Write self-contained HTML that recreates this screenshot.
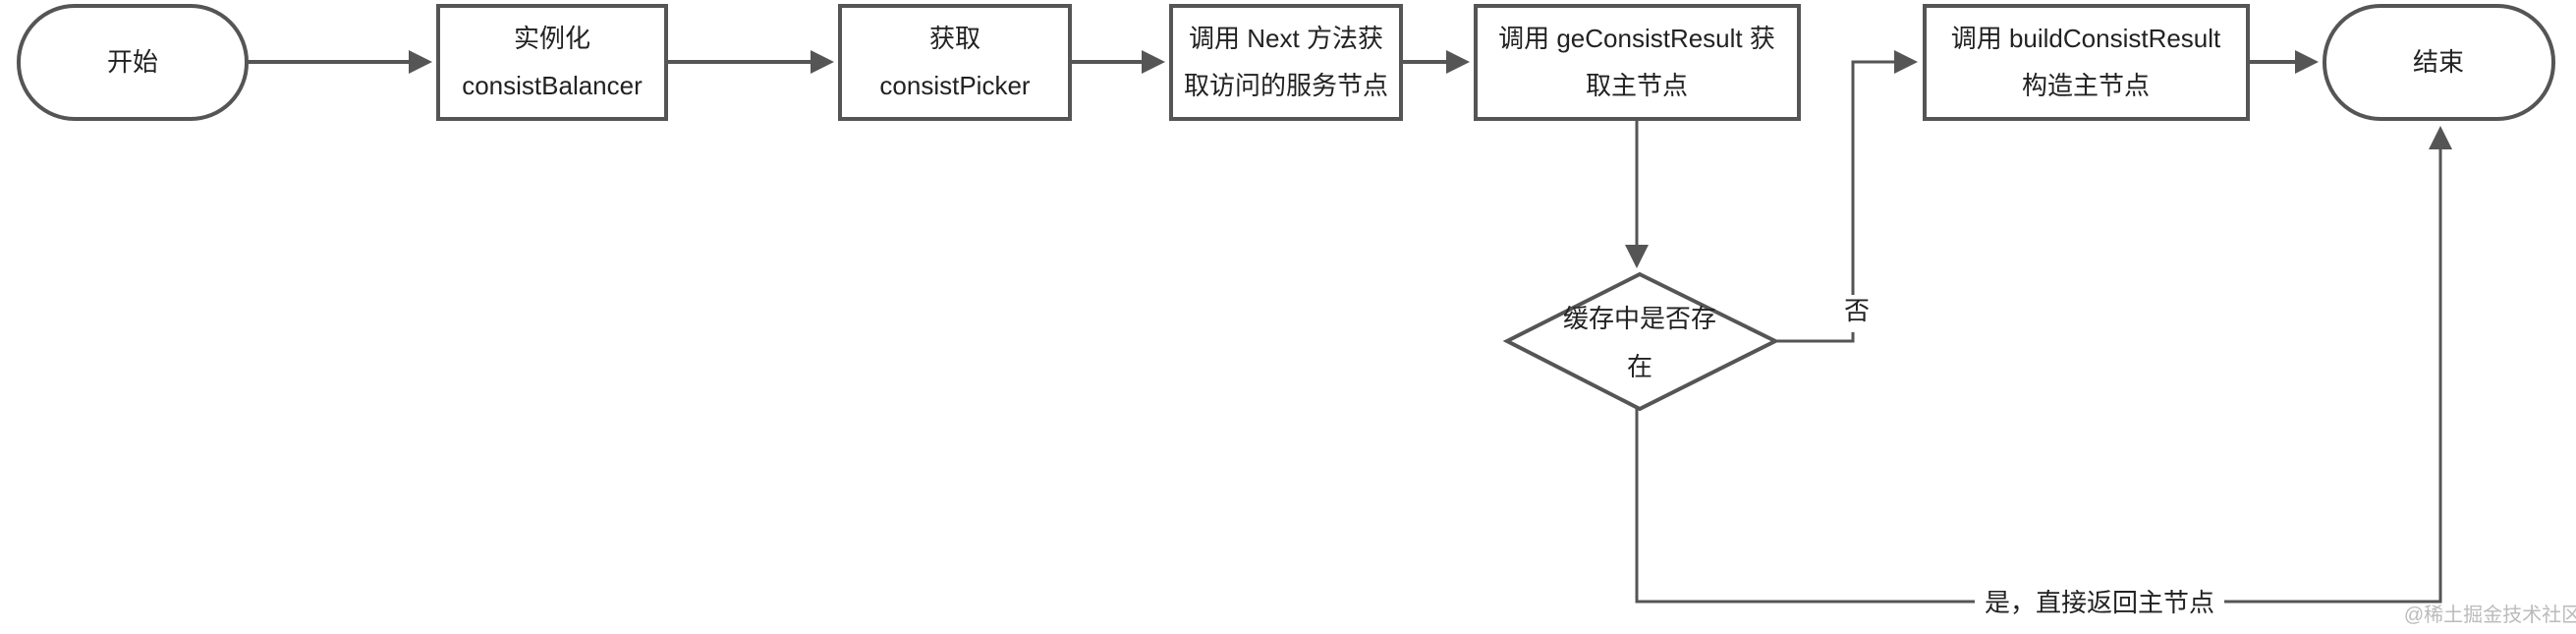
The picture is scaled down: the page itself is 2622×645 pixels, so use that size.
<!DOCTYPE html>
<html><head><meta charset="utf-8"><style>
body{margin:0;background:#fff}
svg text{font-family:"Liberation Sans","Noto Sans CJK SC",sans-serif;fill:#222;font-size:26px}
</style></head><body>
<svg width="2622" height="640" viewBox="0 0 2622 640" xmlns="http://www.w3.org/2000/svg">
<defs><marker id="a" markerWidth="6" markerHeight="6" refX="5" refY="3" orient="auto" markerUnits="strokeWidth"><path d="M0,0 L6,3 L0,6 Z" fill="#555"/></marker>
<marker id="b" markerWidth="8" markerHeight="8" refX="7" refY="4" orient="auto" markerUnits="strokeWidth"><path d="M0,0 L8,4 L0,8 Z" fill="#555"/></marker></defs>
<g stroke="#555" stroke-width="4" fill="#fff">
<rect x="19" y="6" width="232" height="115" rx="57"/>
<rect x="446" y="6" width="232" height="115"/>
<rect x="855" y="6" width="234" height="115"/>
<rect x="1192" y="6" width="234" height="115"/>
<rect x="1502" y="6" width="329" height="115"/>
<rect x="1959" y="6" width="329" height="115"/>
<rect x="2366" y="6" width="233" height="115" rx="57"/>
<polygon points="1669,279 1807,347 1669,416 1534,347"/>
</g>
<g stroke="#555" stroke-width="4" fill="none">
<line x1="251" y1="63" x2="436" y2="63" marker-end="url(#a)"/>
<line x1="678" y1="63" x2="845" y2="63" marker-end="url(#a)"/>
<line x1="1089" y1="63" x2="1182" y2="63" marker-end="url(#a)"/>
<line x1="1426" y1="63" x2="1492" y2="63" marker-end="url(#a)"/>
<line x1="2288" y1="63" x2="2356" y2="63" marker-end="url(#a)"/>
<line x1="1666" y1="121" x2="1666" y2="270" stroke-width="3" marker-end="url(#b)"/>
<polyline points="1807,347 1886,347 1886,63 1949,63" stroke-width="3" marker-end="url(#b)"/>
<polyline points="1666,416 1666,612 2484,612 2484,131" stroke-width="3" marker-end="url(#b)"/>
</g>
<rect x="1876" y="300" width="22" height="38" fill="#fff"/>
<rect x="2010" y="596" width="254" height="34" fill="#fff"/>
<g text-anchor="middle">
<text x="135" y="72">开始</text>
<text x="562" y="48">实例化</text><text x="562" y="96">consistBalancer</text>
<text x="972" y="48">获取</text><text x="972" y="96">consistPicker</text>
<text x="1309" y="48">调用 Next 方法获</text><text x="1309" y="96">取访问的服务节点</text>
<text x="1666" y="48">调用 geConsistResult 获</text><text x="1666" y="96">取主节点</text>
<text x="2123" y="48">调用 buildConsistResult</text><text x="2123" y="96">构造主节点</text>
<text x="2482" y="72">结束</text>
<text x="1669" y="333">缓存中是否存</text><text x="1669" y="382">在</text>
<text x="1890" y="325">否</text>
<text x="2137" y="622">是，直接返回主节点</text>
<text x="2537" y="632" style="font-size:20px;fill:#bbb">@稀土掘金技术社区</text>
</g>
</svg>
</body></html>
